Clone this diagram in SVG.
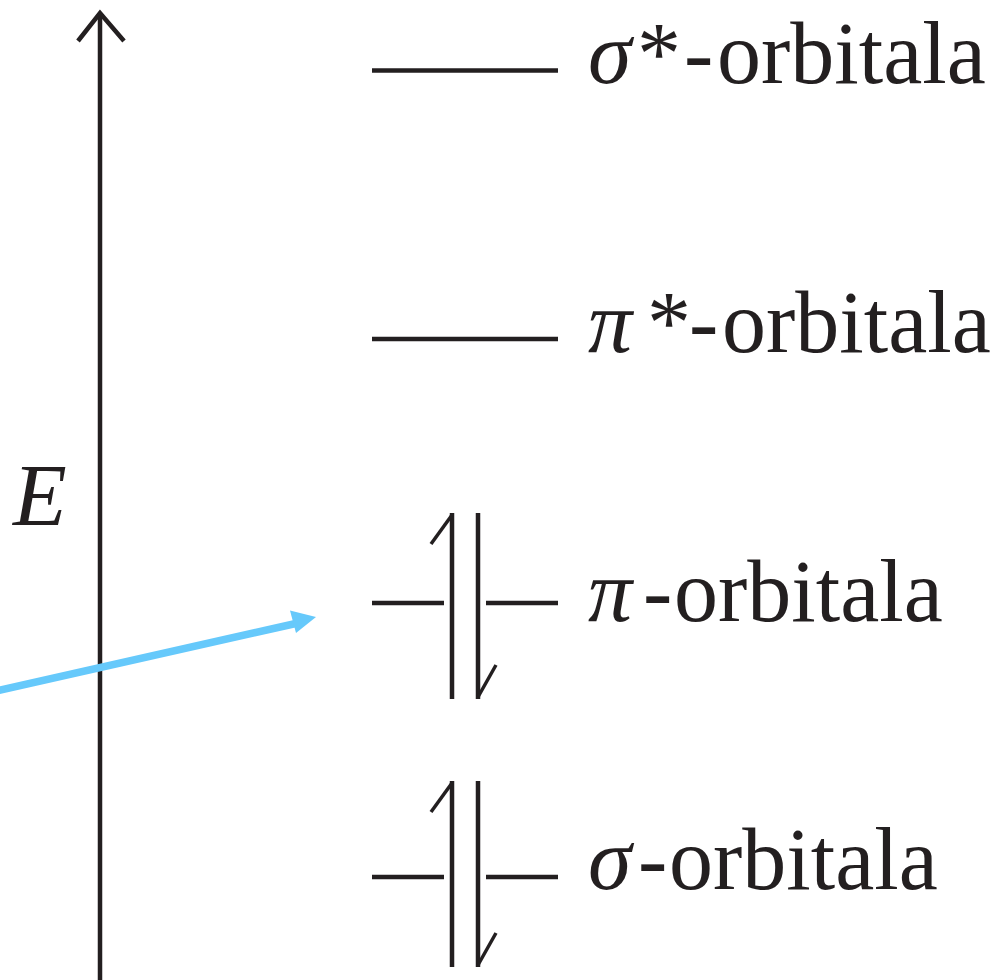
<svg xmlns="http://www.w3.org/2000/svg" width="1003" height="980" viewBox="0 0 1003 980">
<style>
.ln{stroke:#231f20;stroke-width:4.5;fill:none}
.bar{stroke:#231f20;stroke-width:3.5;fill:none}
.lbl{font-family:"Liberation Serif","Times New Roman",serif;font-size:88px;fill:#231f20}
.it{font-style:italic}
</style>
<rect width="1003" height="980" fill="#ffffff"/>
<g id="axis">
<line class="ln" x1="100" y1="13" x2="100" y2="980"/>
<polyline class="ln" points="78,41 100,13 124,41" stroke-linejoin="miter"/>
<text class="lbl it" x="13" y="525" font-size="95">E</text>
</g>
<g id="sigma-star">
<line class="ln" x1="372" y1="70.5" x2="558" y2="70.5"/>
<text class="lbl" y="83"><tspan class="it" x="588">σ</tspan><tspan x="637">*</tspan><tspan x="684">-</tspan><tspan x="717">orbitala</tspan></text>
</g>
<g id="pi-star">
<line class="ln" x1="372" y1="339" x2="558" y2="339"/>
<text class="lbl" y="352"><tspan class="it" x="588">π</tspan><tspan x="647">*</tspan><tspan x="689">-</tspan><tspan x="722">orbitala</tspan></text>
</g>
<g id="pi">
<line class="ln" x1="372" y1="603" x2="444" y2="603"/>
<line class="ln" x1="486" y1="603" x2="558" y2="603"/>
<line class="ln" x1="452" y1="513" x2="452" y2="699"/>
<line class="bar" x1="452" y1="515" x2="431" y2="544"/>
<line class="ln" x1="478" y1="513" x2="478" y2="699"/>
<line class="bar" x1="478" y1="697" x2="496" y2="665"/>
<text class="lbl" y="621"><tspan class="it" x="588">π</tspan><tspan x="643">-</tspan><tspan x="674">orbitala</tspan></text>
</g>
<g id="sigma">
<line class="ln" x1="372" y1="877" x2="444" y2="877"/>
<line class="ln" x1="486" y1="877" x2="558" y2="877"/>
<line class="ln" x1="452" y1="781" x2="452" y2="967"/>
<line class="bar" x1="452" y1="783" x2="431" y2="812"/>
<line class="ln" x1="478" y1="781" x2="478" y2="967"/>
<line class="bar" x1="478" y1="965" x2="496" y2="933"/>
<text class="lbl" y="889"><tspan class="it" x="588">σ</tspan><tspan x="638">-</tspan><tspan x="669">orbitala</tspan></text>
</g>
<g id="connectors">
<line x1="-2" y1="690.5" x2="298" y2="623" stroke="#66c9fb" stroke-width="7.5"/>
<polygon points="316,617 290,610.5 296,633" fill="#66c9fb"/>
</g>
</svg>
